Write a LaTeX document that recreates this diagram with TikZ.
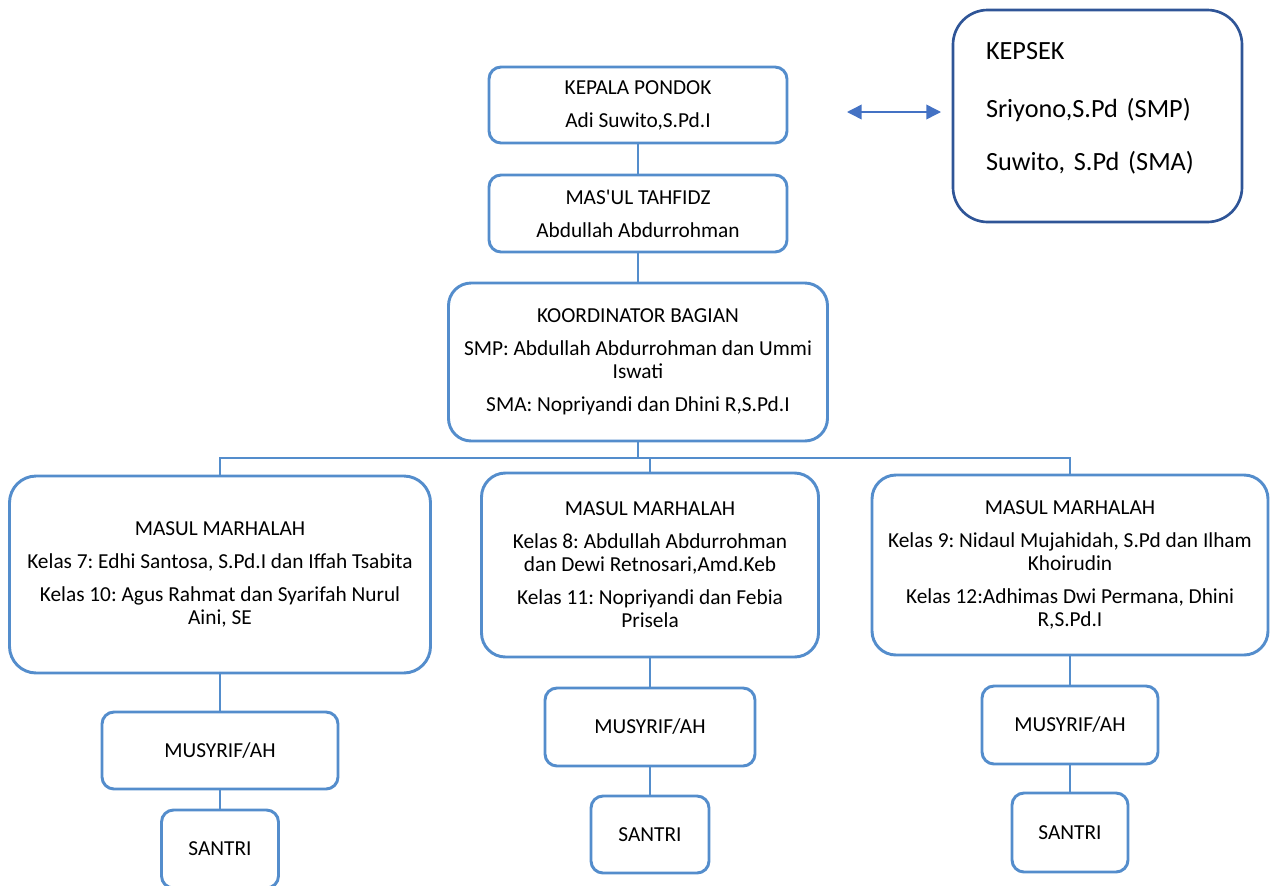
\documentclass[tikz,border=0pt]{standalone}
\usepackage{fontspec}
\setmainfont{Carlito}
\usetikzlibrary{arrows.meta}
\definecolor{boxblue}{RGB}{84,141,204}
\definecolor{darkblue}{RGB}{47,85,151}
\definecolor{arrowblue}{RGB}{68,114,196}
\newcommand\sq{\XeTeXglyph\XeTeXcharglyph"27\relax}
\newcommand\gp{\\[7.5pt]}
\frenchspacing
\tikzset{
  orgbox/.style={draw=boxblue, line width=2.2pt, fill=white, align=center, inner sep=0pt,
    font=\frenchspacing\fontsize{16}{17.25}\selectfont, rounded corners=#1},
  orgbox/.default=9pt,
  conn/.style={draw=boxblue, line width=2.2pt},
  kepsekbox/.style={draw=darkblue, line width=2pt, rounded corners=26pt, align=left,
    inner xsep=0pt, inner ysep=0pt, font=\frenchspacing\fontsize{19.7}{22}\selectfont},
  biarrow/.style={draw=arrowblue, line width=1.1pt, {Triangle[length=11pt,width=11pt]}-{Triangle[length=11pt,width=11pt]}}
}
\begin{document}
\begin{tikzpicture}[x=0.75pt,y=-0.75pt]
\useasboundingbox (0,0) rectangle (1272,886);
% top chain
\node[orgbox, minimum width=298*0.75pt, minimum height=76*0.75pt] (kp) at (638,105)
  {KEPALA PONDOK\gp Adi Suwito,S.Pd.I};
\node[orgbox, minimum width=298*0.75pt, minimum height=77*0.75pt] (mt) at (638,213.5)
  {MAS\sq UL TAHFIDZ\gp Abdullah Abdurrohman};
\node[orgbox=17pt, minimum width=379*0.75pt, minimum height=158*0.75pt] (kb) at (638,362)
  {KOORDINATOR BAGIAN\gp SMP: Abdullah Abdurrohman dan Ummi\\Iswati\gp SMA: Nopriyandi dan Dhini R,S.Pd.I};
% marhalah row
\node[orgbox=20pt, minimum width=421*0.75pt, minimum height=197*0.75pt] (ml) at (220,574.5)
  {MASUL MARHALAH\gp Kelas 7: Edhi Santosa, S.Pd.I dan Iffah Tsabita\gp Kelas 10: Agus Rahmat dan Syarifah Nurul\\Aini, SE};
\node[orgbox=18pt, minimum width=337*0.75pt, minimum height=184*0.75pt] (mm) at (650,565)
  {MASUL MARHALAH\gp Kelas 8: Abdullah Abdurrohman\\dan Dewi Retnosari,Amd.Keb\gp Kelas 11: Nopriyandi dan Febia\\Prisela};
\node[orgbox=18pt, minimum width=396*0.75pt, minimum height=180*0.75pt] (mr) at (1070,565)
  {MASUL MARHALAH\gp Kelas 9: Nidaul Mujahidah, S.Pd dan Ilham\\Khoirudin\gp Kelas 12:Adhimas Dwi Permana, Dhini\\R,S.Pd.I};
% musyrif row
\node[orgbox, minimum width=236*0.75pt, minimum height=77*0.75pt] (sl) at (220,750.5) {MUSYRIF/AH};
\node[orgbox, minimum width=210*0.75pt, minimum height=78*0.75pt] (sm) at (650,727) {MUSYRIF/AH};
\node[orgbox, minimum width=176*0.75pt, minimum height=78*0.75pt] (sr) at (1070,725) {MUSYRIF/AH};
% santri row
\node[orgbox, minimum width=117*0.75pt, minimum height=78*0.75pt] (tl) at (220,849) {SANTRI};
\node[orgbox, minimum width=118*0.75pt, minimum height=77*0.75pt] (tm) at (650,834.5) {SANTRI};
\node[orgbox, minimum width=116*0.75pt, minimum height=79*0.75pt] (tr) at (1070,832.5) {SANTRI};
% kepsek
\node[kepsekbox, minimum width=289*0.75pt, minimum height=212*0.75pt, text width=223*0.75pt] (ks) at (1097.5,116)
  {KEPSEK\\[21pt]Sriyono,S.Pd (SMP)\\[18pt]Suwito, S.Pd (SMA)\\[-8pt]\mbox{}};
% connectors
\coordinate (bus) at (0,458);
\draw[conn] (kp) -- (mt);
\draw[conn] (mt) -- (kb);
\draw[conn] (kb.south) -- (kb.south |- bus);
\draw[conn] (ml.north) -- (ml.north |- bus) -- (mr.north |- bus) -- (mr.north);
\draw[conn] (mm.north) -- (mm.north |- bus);
\draw[conn] (ml) -- (sl);
\draw[conn] (mm) -- (sm);
\draw[conn] (mr) -- (sr);
\draw[conn] (sl) -- (tl);
\draw[conn] (sm) -- (tm);
\draw[conn] (sr) -- (tr);
% double arrow
\coordinate (al) at (847,112);
\coordinate (ar) at (941,112);
\draw[biarrow] (al) -- (ar);
\end{tikzpicture}
\end{document}
